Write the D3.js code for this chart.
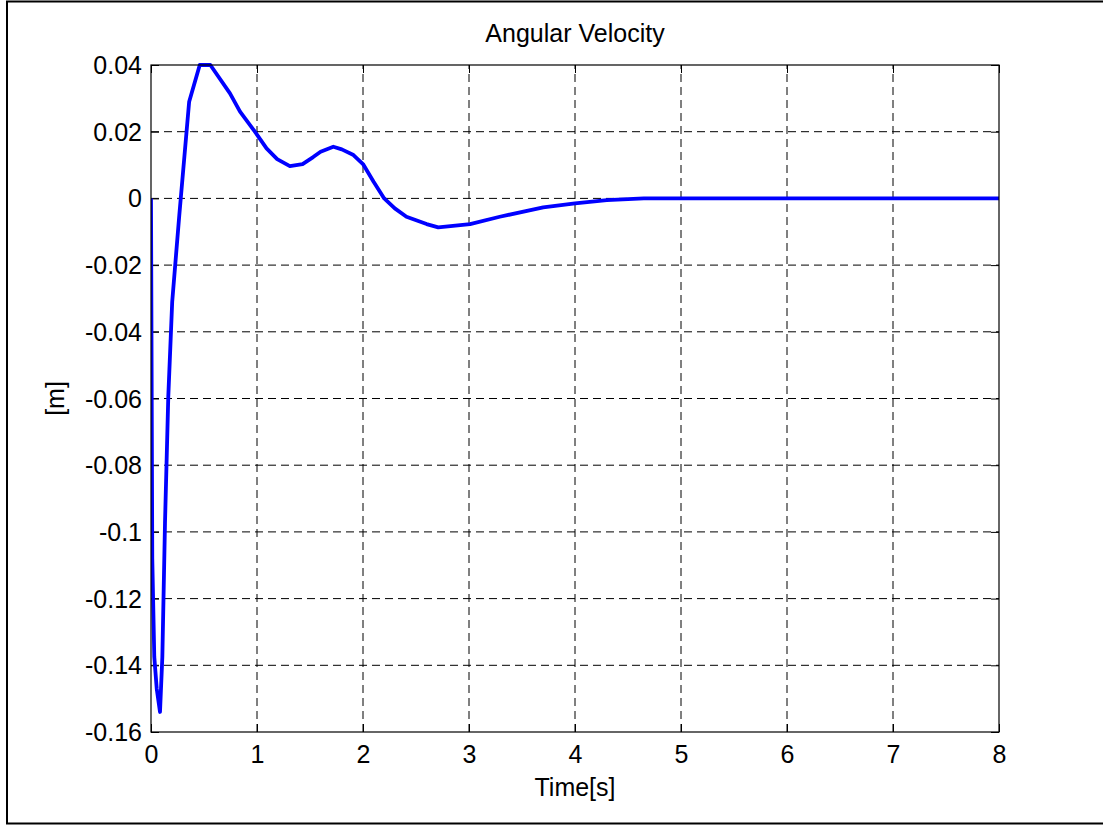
<!DOCTYPE html>
<html>
<head>
<meta charset="utf-8">
<script src="https://cdn.jsdelivr.net/npm/d3@7"></script>
<style>
  html, body { margin: 0; padding: 0; background: #fff; }
  svg { display: block; }
  text { font-family: "Liberation Sans", Arial, Helvetica, sans-serif; fill: #000; }
</style>
</head>
<body>
<svg id="chart" width="1103" height="825"></svg>
<script>
// ---- data ----
const titleText = "Angular Velocity";
const xLabel = "Time[s]";
const yLabel = "[m]";
const time = [0, 0.012, 0.031, 0.054, 0.085, 0.107, 0.132, 0.163, 0.2, 0.267, 0.36, 0.46, 0.56, 0.745, 0.84, 0.98, 1.09, 1.19, 1.31, 1.43, 1.53, 1.6, 1.72, 1.8, 1.91, 2.0, 2.1, 2.2, 2.3, 2.41, 2.6, 2.71, 3.01, 3.29, 3.7, 4.0, 4.3, 4.65, 8];
const velocity = [0, -0.108, -0.1375, -0.147, -0.154, -0.1375, -0.0974, -0.0595, -0.031, -0.005, 0.029, 0.04, 0.04, 0.0315, 0.026, 0.02, 0.015, 0.0118, 0.0097, 0.0103, 0.0124, 0.014, 0.0155, 0.0147, 0.013, 0.0103, 0.005, 0.0, -0.003, -0.0055, -0.0077, -0.0087, -0.0077, -0.0055, -0.0027, -0.0015, -0.0005, 0, 0];
const xTicks = [0, 1, 2, 3, 4, 5, 6, 7, 8];
const yTicks = [0.04, 0.02, 0, -0.02, -0.04, -0.06, -0.08, -0.1, -0.12, -0.14, -0.16];
const yTickLabels = ["0.04", "0.02", "0", "-0.02", "-0.04", "-0.06", "-0.08", "-0.1", "-0.12", "-0.14", "-0.16"];

// ---- layout ----
const W = 1103, H = 825;
const plot = { left: 151, right: 999, top: 65, bottom: 732 };
const fontSize = 25;

const svg = d3.select("#chart");

// outer frame
svg.append("path")
  .attr("d", `M1104,1.5 H7 V823.5 H1104`)
  .attr("fill", "none").attr("stroke", "#000").attr("stroke-width", 2);

const x = d3.scaleLinear().domain([0, 8]).range([plot.left, plot.right]);
const y = d3.scaleLinear().domain([-0.16, 0.04]).range([plot.bottom, plot.top]);

// grid
const grid = svg.append("g").attr("stroke", "#000").attr("stroke-width", 1).attr("stroke-dasharray", "8,5");
grid.selectAll(".gx").data(xTicks.slice(1, -1)).join("line")
  .attr("x1", d => x(d)).attr("x2", d => x(d))
  .attr("y1", plot.bottom).attr("y2", plot.top);
grid.selectAll(".gy").data(yTicks.slice(1, -1)).join("line")
  .attr("y1", d => y(d)).attr("y2", d => y(d))
  .attr("x1", plot.left).attr("x2", plot.right);

// axes (inward ticks)
const tickLen = 8;
const axL = svg.append("g").attr("transform", `translate(${plot.left},0)`)
  .call(d3.axisLeft(y).tickValues(yTicks).tickSizeInner(-tickLen).tickSizeOuter(0).tickPadding(9)
    .tickFormat((d, i) => yTickLabels[i]));
const axB = svg.append("g").attr("transform", `translate(0,${plot.bottom})`)
  .call(d3.axisBottom(x).tickValues(xTicks).tickSizeInner(-tickLen).tickSizeOuter(0).tickPadding(13)
    .tickFormat(d3.format("d")));
const axR = svg.append("g").attr("transform", `translate(${plot.right},0)`)
  .call(d3.axisRight(y).tickValues(yTicks).tickSizeInner(-tickLen).tickSizeOuter(0).tickFormat(""));
const axT = svg.append("g").attr("transform", `translate(0,${plot.top})`)
  .call(d3.axisTop(x).tickValues(xTicks).tickSizeInner(-tickLen).tickSizeOuter(0).tickFormat(""));

[axL, axB, axR, axT].forEach(a => {
  a.select(".domain").remove();
  a.selectAll("line").attr("stroke", "#000");
  a.selectAll("text").attr("font-size", fontSize)
    .attr("font-family", '"Liberation Sans", Arial, sans-serif').attr("fill", "#000");
});
axL.selectAll("text").attr("dy", "0.34em");

// data line
const clipId = "plotclip";
svg.append("clipPath").attr("id", clipId).append("rect")
  .attr("x", plot.left).attr("y", plot.top - 3)
  .attr("width", plot.right - plot.left).attr("height", plot.bottom - plot.top + 6);

const pts = time.map((t, i) => [t, velocity[i]]);
svg.append("path")
  .datum(pts)
  .attr("clip-path", `url(#${clipId})`)
  .attr("fill", "none")
  .attr("stroke", "#0000ff")
  .attr("stroke-width", 3.8)
  .attr("stroke-linejoin", "round")
  .attr("d", d3.line().x(d => x(d[0])).y(d => y(d[1])));

// box
svg.append("rect")
  .attr("x", plot.left).attr("y", plot.top)
  .attr("width", plot.right - plot.left).attr("height", plot.bottom - plot.top)
  .attr("fill", "none").attr("stroke", "#000").attr("stroke-width", 1.2);

// titles
svg.append("text").attr("x", (plot.left + plot.right) / 2).attr("y", 42)
  .attr("text-anchor", "middle").attr("font-size", fontSize).text(titleText);
svg.append("text").attr("x", (plot.left + plot.right) / 2).attr("y", 796)
  .attr("text-anchor", "middle").attr("font-size", fontSize).text(xLabel);
svg.append("text").attr("transform", `translate(64,${(plot.top + plot.bottom) / 2}) rotate(-90)`)
  .attr("text-anchor", "middle").attr("font-size", fontSize).text(yLabel);
</script>
</body>
</html>
